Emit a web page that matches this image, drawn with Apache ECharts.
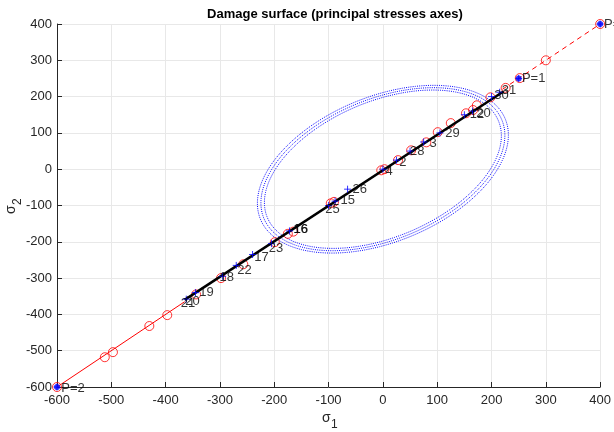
<!DOCTYPE html>
<html><head><meta charset="utf-8">
<script src="https://cdn.jsdelivr.net/npm/echarts@6/dist/echarts.min.js"></script>
<style>html,body{margin:0;padding:0;background:#fff}#c{width:614px;height:432px}</style>
</head><body><div id="c"></div>
<script>
var xTicks = [-600,-500,-400,-300,-200,-100,0,100,200,300,400];
var yTicks = [-600,-500,-400,-300,-200,-100,0,100,200,300,400];
// red dashed / solid reference diagonal
var redSolid = [[-600,-600],[-365,-365]];
var redDashed = [[220,220],[400,400]];
// black path
var blackPath = [[-365,-360],[222,214]];
// red open circles
var redCircles = [[400,400],[300,300],[252,251],[226,224],[198,198],[173,176],[166,163],[153,154],[125,127],[101,102],[80,74],[52,52],[28,25],[-3,-3],[3,0],
  [-96,-94],[-90,-90],[-175,-178],[-165,-172],[-199,-201],[-257,-262],[-298,-300],[-344,-345],[-397,-402],[-430,-432],[-512,-518],[-497,-504],[-600,-600]];
// blue plus markers
var bluePlus = [[400,400],[250,250],[-600,-600],[215,212],[200,200],[165,160],[150,150],[105,100],[75,75],[50,50],[25,25],[0,0],[-65,-55],[-88,-88],[-100,-100],
  [-172,-170],[-205,-205],[-240,-235],[-270,-265],[-295,-295],[-345,-340],[-362,-358]];
var blueDots = [[400,400],[250,250],[-600,-600]];
// text labels: [x, y, text]
var labels = [[256,250,'P=1'],[-592,-605,'P=2'],[407,400,'P=3'],
  [219,217,'31'],[205,204,'30'],[172,153,'20'],[160,150,'12'],[115,98,'29'],[86,70,'3'],[50,50,'28'],[30,19,'2'],[5,-6,'4'],
  [-56,-57,'26'],[-78,-87,'15'],[-106,-110,'25'],[-165,-165,'16'],[-164,-165,'16'],[-210,-218,'23'],[-237,-242,'17'],[-268,-278,'22'],
  [-301,-298,'18'],[-338,-339,'19'],[-372,-370,'21'],[-364,-365,'20']];
// ellipse rings: [semi-major (along 45 deg), semi-minor]
var ellipseRings = [[260,166],[267,172],[274,178]];

var chart = echarts.init(document.getElementById('c'));
var FONT = 'Liberation Sans, Arial';
var axisCommon = {
  min: -600, max: 400, interval: 100,
  axisLine: {show: true, onZero: false, lineStyle: {color: '#262626', width: 1}},
  axisTick: {show: true, inside: true, length: 5, lineStyle: {color: '#262626'}},
  splitLine: {show: true, lineStyle: {color: '#e8e8e8', width: 1}},
  axisLabel: {color: '#262626', fontSize: 13, fontFamily: FONT}
};
var plusPath = 'path://M0,-5L0,5M-5,0L5,0';
chart.setOption({
  animation: false,
  title: {text: 'Damage surface (principal stresses axes)', left: 330, top: 3, textAlign: 'center',
    textStyle: {fontSize: 13, fontWeight: 'bold', color: '#000', fontFamily: FONT}},
  grid: {left: 57, right: 11, top: 24, bottom: 45, containLabel: false},
  xAxis: Object.assign({type: 'value'}, axisCommon, {axisLabel: Object.assign({}, axisCommon.axisLabel, {margin: 7})}),
  yAxis: Object.assign({type: 'value'}, axisCommon, {axisLabel: Object.assign({}, axisCommon.axisLabel, {margin: 5})}),
  graphic: [
    {type: 'text', left: 322, top: 411, style: {text: 'σ', fontSize: 14, fill: '#262626', fontFamily: FONT}},
    {type: 'text', left: 331, top: 419, style: {text: '1', fontSize: 12, fill: '#262626', fontFamily: FONT}},
    {type: 'text', x: 4, y: 214, rotation: Math.PI/2, style: {text: 'σ', fontSize: 14, fill: '#262626', fontFamily: FONT}},
    {type: 'text', x: 12, y: 205, rotation: Math.PI/2, style: {text: '2', fontSize: 12, fill: '#262626', fontFamily: FONT}}
  ],
  series: [
    {type: 'custom', clip: false, data: ellipseRings, z: 2,
      renderItem: function(params, api) {
        var a = api.value(0), b = api.value(1), th = Math.PI/4, pts = [];
        for (var i = 0; i <= 240; i++) {
          var t = i / 240 * 2 * Math.PI;
          var ex = a*Math.cos(t)*Math.cos(th) - b*Math.sin(t)*Math.sin(th);
          var ey = a*Math.cos(t)*Math.sin(th) + b*Math.sin(t)*Math.cos(th);
          pts.push(api.coord([ex, ey]));
        }
        return {type: 'polyline', shape: {points: pts},
          style: {fill: null, stroke: '#0000ff', lineWidth: 1, lineDash: [1, 1.2]}};
      }},
    {type: 'line', data: redSolid, symbol: 'none', lineStyle: {color: '#ff0000', width: 1}, z: 3},
    {type: 'line', data: redDashed, symbol: 'none', lineStyle: {color: '#ff0000', width: 1, type: [5, 4]}, z: 3},
    {type: 'line', data: blackPath, symbol: 'none', lineStyle: {color: '#000', width: 2.5}, z: 5},
    {type: 'scatter', data: redCircles, symbol: 'circle', symbolSize: 9,
      itemStyle: {color: 'rgba(0,0,0,0)', borderColor: '#ff0000', borderWidth: 1}, z: 4},
    {type: 'scatter', data: blueDots, symbol: 'circle', symbolSize: 6, itemStyle: {color: '#0000ff'}, z: 6},
    {type: 'scatter', data: bluePlus, symbol: plusPath, symbolSize: 7,
      itemStyle: {color: 'none', borderColor: '#0000ff', borderWidth: 1}, z: 6},
    {type: 'scatter', data: labels, symbolSize: 0, z: 7, clip: false,
      label: {show: true, position: 'right', distance: 0, color: '#000', fontSize: 13,
        fontFamily: FONT, formatter: function(p){ return p.value[2]; }}}
  ]
});
</script></body></html>
